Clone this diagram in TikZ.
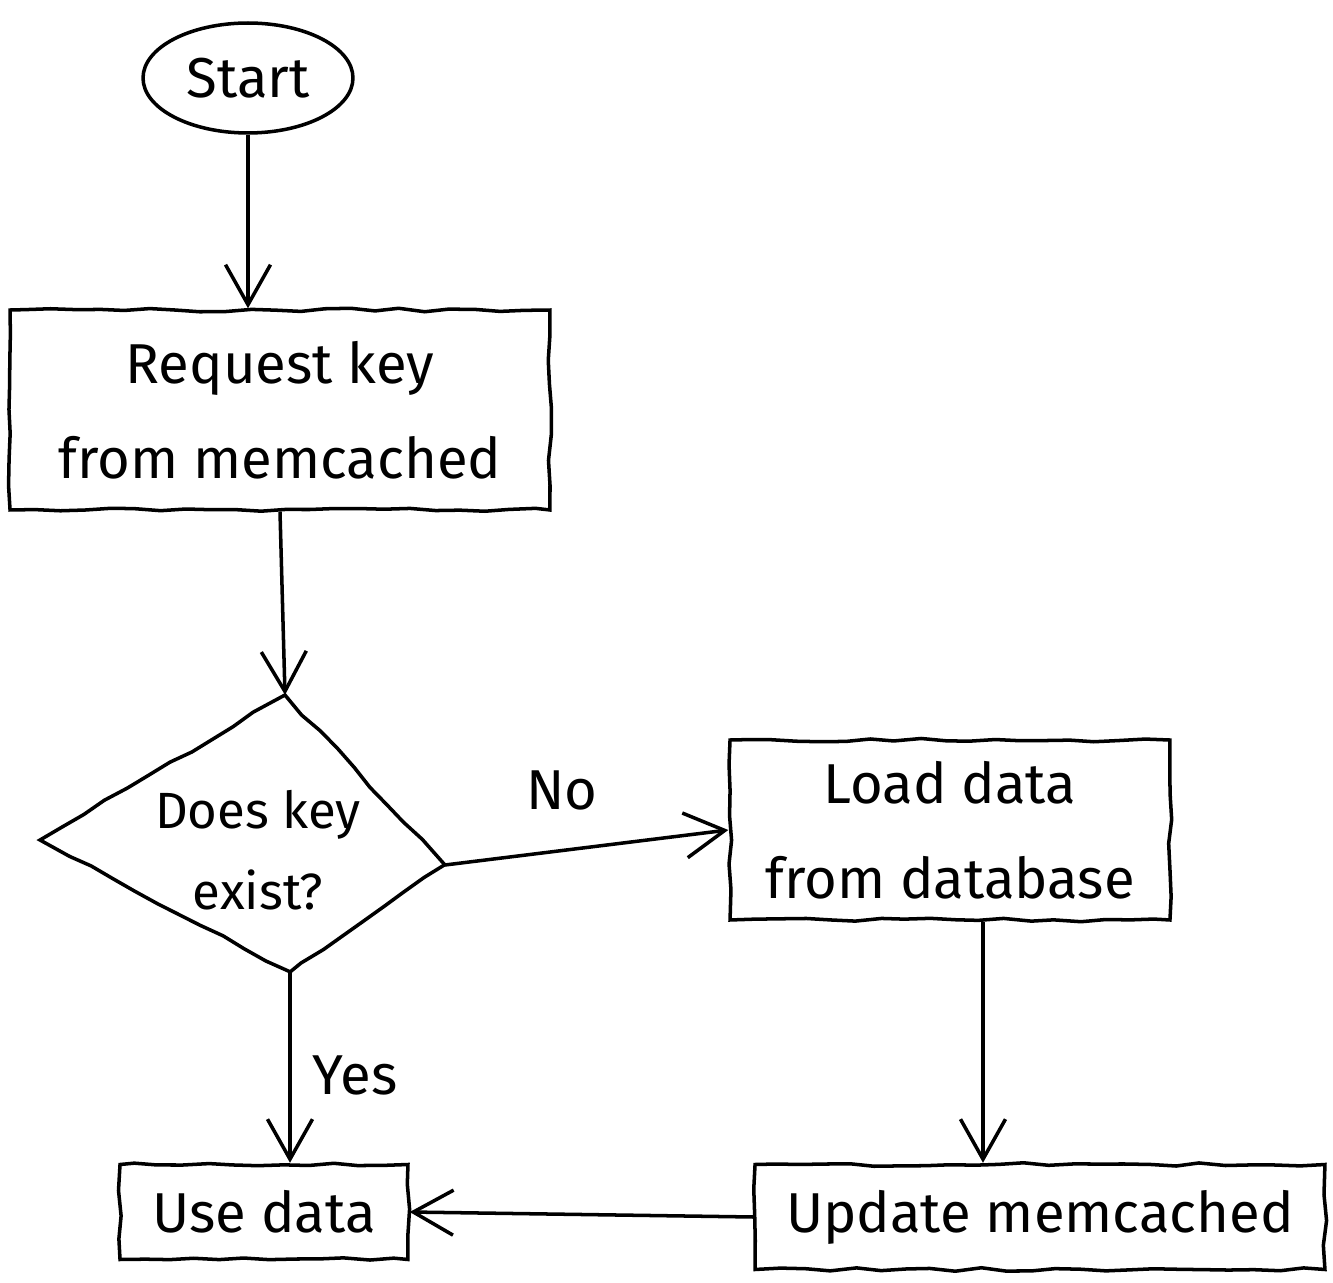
\documentclass[tikz,border=0pt]{standalone}
\usepackage{fontspec}
\setmainfont{Fira Sans}
\usetikzlibrary{shapes.geometric,arrows.meta,decorations.pathmorphing}
\begin{document}
\begin{tikzpicture}[
  x=0.02cm, y=-0.02cm,
  sketch/.style={decorate, decoration={random steps, segment length=5mm, amplitude=0.35mm}},
  txt/.style={align=center, font=\fontsize{32}{54}\selectfont, inner sep=0pt},
  box/.style={draw, line width=2pt, sketch, txt},
  conn/.style={line width=2pt, -{Straight Barb[length=0.8cm,width=0.9cm,line width=2pt]}},
  lbl/.style={font=\fontsize{32}{40}\selectfont}
]
\pgfmathsetseed{7}
\useasboundingbox (0,0) rectangle (1333,1283);
\node[draw, line width=2pt, txt, ellipse, minimum width=4.2cm, minimum height=2.2cm] (start) at (248,78) {Start};
\node[box, rectangle, minimum width=10.8cm, minimum height=4cm] (req) at (280,410) {Request key\\from memcached};
\coordinate (dt) at (285,695);
\coordinate (dr) at (445,865);
\coordinate (db) at (290,972);
\coordinate (dl) at (40,840);
\draw[line width=2pt, sketch] (dt) -- (dr) -- (db) -- (dl) -- cycle;
\node[txt, font=\fontsize{29}{46}\selectfont] (dec) at (258,850) {Does key\\exist?};
\node[box, rectangle, minimum width=8.8cm, minimum height=3.6cm] (load) at (950,830) {Load data\\from database};
\node[box, rectangle, minimum width=11.4cm, minimum height=2.1cm] (upd) at (1040,1217) {Update memcached};
\node[box, rectangle, minimum width=5.76cm, minimum height=1.9cm] (use) at (264,1212) {Use data};
\draw[conn] (start.south) -- (start.south |- req.north);
\draw[conn] (req.south) -- (dt);
\draw[conn] (dr) -- (load.west);
\draw[conn] (db) -- (db |- use.north);
\draw[conn] ([xshift=0.66cm]load.south) -- ([xshift=0.66cm]load.south |- upd.north);
\draw[conn] (upd.west) -- (use.east);
\node[lbl] (no) at (562,790) {No};
\node[lbl] (yes) at (355,1075) {Yes};
\end{tikzpicture}
\end{document}
